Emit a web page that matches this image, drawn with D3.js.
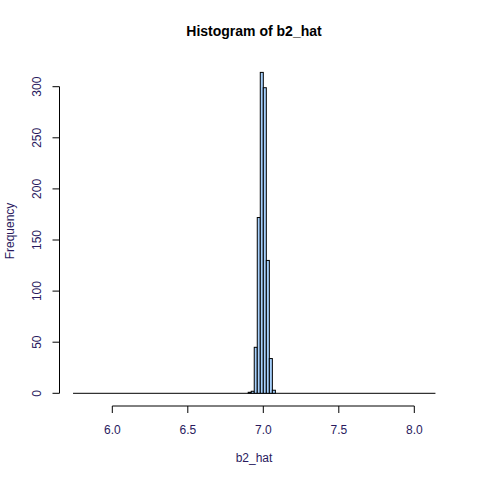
<!DOCTYPE html>
<html><head><meta charset="utf-8">
<script src="https://cdn.jsdelivr.net/npm/d3@7"></script>
<style>body{margin:0;background:#fff}text{font-family:"Liberation Sans",Arial,sans-serif}</style>
</head><body><div id="chartArea"></div>
<script>
// histogram bins with counts (width 0.02)
const binStarts = [6.90, 6.92, 6.94, 6.96, 6.98, 7.00, 7.02, 7.04, 7.06];
const counts = [1, 2, 45, 172, 314, 299, 130, 34, 3];
const binWidth = 0.02;
const emptyRange = [5.74, 8.14];   // range covered by zero-count bins
const xTicks = [6.0, 6.5, 7.0, 7.5, 8.0];
const yTicks = [0, 50, 100, 150, 200, 250, 300];

const width = 480, height = 480;
const svg = d3.select("#chartArea").append("svg")
  .attr("width", width).attr("height", height);

const x = d3.scaleLinear().domain([6, 8]).range([112.3, 414.3]);
const y = d3.scaleLinear().domain([0, 300]).range([393.3, 86.7]);

// baseline from empty bins
svg.append("line")
  .attr("x1", x(emptyRange[0])).attr("x2", x(emptyRange[1]))
  .attr("y1", y(0)).attr("y2", y(0))
  .attr("stroke", "#000");

svg.selectAll("rect.bar").data(binStarts).enter().append("rect")
  .attr("class", "bar")
  .attr("x", d => x(d))
  .attr("width", x(binWidth) - x(0))
  .attr("y", (d, i) => y(counts[i]))
  .attr("height", (d, i) => y(0) - y(counts[i]))
  .attr("fill", "#a6d0fc").attr("stroke", "#000").attr("stroke-width", 1);

// x axis
const xa = svg.append("g").attr("transform", "translate(0,406)");
xa.append("line").attr("x1", x(6)).attr("x2", x(8)).attr("stroke", "#000");
xTicks.forEach(t => {
  xa.append("line").attr("x1", x(t)).attr("x2", x(t)).attr("y1", 0).attr("y2", 7).attr("stroke", "#000");
  xa.append("text").attr("x", x(t)).attr("y", 28).attr("text-anchor", "middle")
    .attr("font-size", 12).attr("fill", "#2a1a5e").text(t.toFixed(1));
});

// y axis
const ya = svg.append("g").attr("transform", "translate(59.5,0)");
ya.append("line").attr("y1", y(0)).attr("y2", y(300)).attr("stroke", "#000");
yTicks.forEach(t => {
  ya.append("line").attr("x1", -7).attr("x2", 0).attr("y1", y(t)).attr("y2", y(t)).attr("stroke", "#000");
  ya.append("text").attr("transform", `translate(-19,${y(t)}) rotate(-90)`)
    .attr("text-anchor", "middle").attr("font-size", 12).attr("fill", "#2a1a5e").text(t);
});

svg.append("text").attr("x", 254).attr("y", 36).attr("text-anchor", "middle")
  .attr("font-size", 14).attr("font-weight", "bold").text("Histogram of b2_hat");
svg.append("text").attr("x", 254).attr("y", 462).attr("text-anchor", "middle")
  .attr("font-size", 12).attr("fill", "#2a1a5e").text("b2_hat");
svg.append("text").attr("transform", "translate(14,231) rotate(-90)")
  .attr("text-anchor", "middle").attr("font-size", 12).attr("fill", "#2a1a5e").text("Frequency");
</script></body></html>
